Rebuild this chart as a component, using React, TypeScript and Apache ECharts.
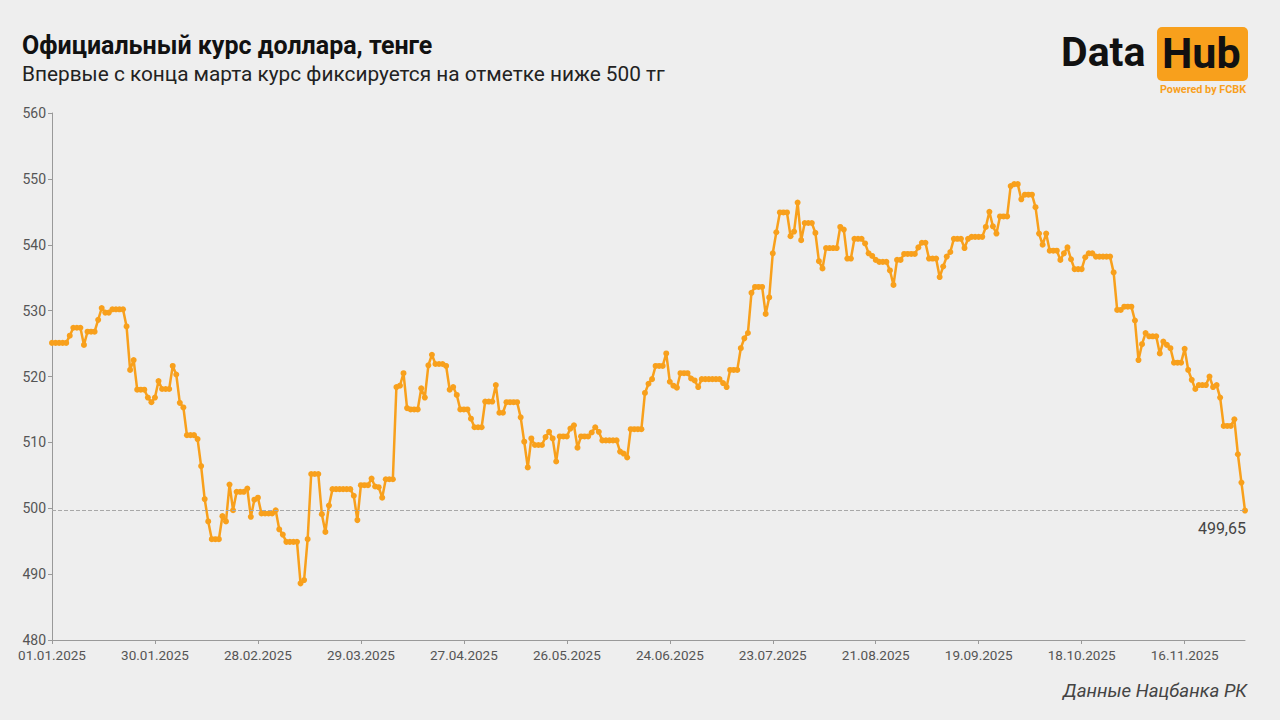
import React, { useEffect, useRef } from "react";
import * as echarts from "echarts";

const jan = [525.1, 525.1, 525.1, 525.1, 525.1, 526.2, 527.4, 527.4, 527.4, 524.8, 526.8, 526.8, 526.8, 528.6, 530.4, 529.7, 529.7, 530.2, 530.2, 530.2, 530.2, 527.6, 521.0, 522.5, 518.0, 518.0, 518.0, 516.8, 516.1, 516.8, 519.3];
const feb = [518.1, 518.1, 518.1, 521.6, 520.3, 516.0, 515.3, 511.1, 511.1, 511.1, 510.5, 506.4, 501.4, 498.0, 495.3, 495.3, 495.3, 498.8, 498.0, 503.6, 499.7, 502.5, 502.5, 502.5, 503.0, 498.7, 501.3, 501.6];
const mar = [499.2, 499.2, 499.2, 499.2, 499.7, 496.8, 496.0, 494.9, 494.9, 494.9, 494.9, 488.6, 489.1, 495.3, 505.2, 505.2, 505.2, 499.1, 496.4, 500.4, 502.9, 502.9, 502.9, 502.9, 502.9, 502.9, 501.9, 498.2, 503.5, 503.5, 503.5];
const apr = [504.5, 503.3, 503.2, 501.6, 504.4, 504.4, 504.4, 518.4, 518.6, 520.5, 515.2, 515.0, 515.0, 515.0, 518.2, 516.8, 521.7, 523.3, 521.9, 521.9, 521.9, 521.6, 518.0, 518.4, 517.2, 515.0, 515.0, 515.0, 513.6, 512.3];
const may = [512.3, 512.3, 516.2, 516.2, 516.2, 518.7, 514.5, 514.5, 516.1, 516.1, 516.1, 516.1, 513.8, 510.1, 506.2, 510.6, 509.6, 509.6, 509.6, 510.8, 511.6, 510.6, 507.1, 510.9, 510.9, 510.9, 512.1, 512.6, 509.2, 510.9, 510.9];
const jun = [510.9, 511.5, 512.3, 511.6, 510.3, 510.3, 510.3, 510.3, 510.3, 508.6, 508.3, 507.7, 512.0, 512.0, 512.0, 512.0, 517.5, 518.9, 519.6, 521.6, 521.6, 521.6, 523.5, 519.2, 518.6, 518.3, 520.5, 520.5, 520.5, 519.7];
const jul = [519.4, 518.4, 519.6, 519.6, 519.6, 519.6, 519.6, 519.6, 519.0, 518.4, 521.0, 521.0, 521.0, 524.3, 525.8, 526.6, 532.7, 533.6, 533.6, 533.6, 529.5, 532.0, 538.7, 541.9, 544.9, 544.9, 544.9, 541.3, 542.0, 546.4, 540.7];
const aug = [543.3, 543.3, 543.3, 541.8, 537.5, 536.4, 539.5, 539.5, 539.5, 539.5, 542.7, 542.3, 537.9, 537.9, 540.9, 540.9, 540.9, 540.2, 538.7, 538.3, 537.7, 537.4, 537.4, 537.4, 536.1, 533.9, 537.7, 537.7, 538.6, 538.6, 538.6];
const sep = [538.6, 539.6, 540.3, 540.3, 537.9, 537.9, 537.9, 535.1, 536.7, 538.2, 538.9, 540.9, 540.9, 540.9, 539.5, 540.9, 541.2, 541.2, 541.2, 541.2, 542.7, 545.0, 542.8, 541.7, 544.3, 544.3, 544.3, 548.9, 549.2, 549.2];
const oct = [546.9, 547.6, 547.6, 547.6, 545.7, 541.7, 540.0, 541.7, 539.1, 539.1, 539.1, 537.7, 538.7, 539.6, 537.8, 536.3, 536.3, 536.3, 538.1, 538.7, 538.7, 538.2, 538.2, 538.2, 538.2, 538.2, 535.8, 530.1, 530.1, 530.6, 530.6];
const nov = [530.6, 528.5, 522.5, 524.9, 526.6, 526.1, 526.1, 526.1, 523.5, 525.3, 524.8, 524.3, 522.1, 522.1, 522.1, 524.2, 521.0, 519.5, 518.1, 518.7, 518.7, 518.7, 520.0, 518.4, 518.7, 516.8, 512.5, 512.5, 512.5, 513.5];
const dec = [508.2, 503.9, 499.65];

const values = [...jan, ...feb, ...mar, ...apr, ...may, ...jun, ...jul, ...aug, ...sep, ...oct, ...nov, ...dec];
const lastValue = 499.65;
const lastLabel = "499,65";
const yTicks = [480, 490, 500, 510, 520, 530, 540, 550, 560];

const pad = (n: number) => (n < 10 ? "0" + n : "" + n);
const dates: string[] = values.map((_, i) => {
  const d = new Date(Date.UTC(2025, 0, 1 + i));
  return pad(d.getUTCDate()) + "." + pad(d.getUTCMonth() + 1) + "." + d.getUTCFullYear();
});

const ORANGE = "#f8a01c";
const FONT = "Roboto, 'Noto Sans', sans-serif";

export default function App() {
  const ref = useRef<HTMLDivElement>(null);
  useEffect(() => {
    document.body.style.margin = "0";
    const chart = echarts.init(ref.current!, null, { renderer: "svg" });
    chart.setOption({
      animation: false,
      backgroundColor: "#eeeeee",
      textStyle: { fontFamily: FONT },
      grid: { left: 52, right: 35, top: 113, bottom: 80, containLabel: false },
      xAxis: {
        type: "category",
        data: dates,
        boundaryGap: false,
        axisLine: { lineStyle: { color: "#999", width: 1 } },
        axisTick: { show: true, interval: 28, length: 4, lineStyle: { color: "#999" } },
        axisLabel: { interval: 28, color: "#555", fontSize: 13.5, margin: 8, fontFamily: FONT },
        splitLine: { show: false },
      },
      yAxis: {
        type: "value",
        min: yTicks[0],
        max: yTicks[yTicks.length - 1],
        interval: 10,
        axisLine: { show: true, lineStyle: { color: "#999", width: 1 } },
        axisTick: { show: true, length: 4, lineStyle: { color: "#999" } },
        axisLabel: { color: "#555", fontSize: 14, margin: 6, fontFamily: FONT },
        splitLine: { show: false },
      },
      series: [
        {
          type: "line",
          data: values,
          color: ORANGE,
          symbol: "circle",
          symbolSize: 6,
          showSymbol: true,
          showAllSymbol: true,
          lineStyle: { width: 2.5, color: ORANGE },
          itemStyle: { color: ORANGE },
          markLine: {
            silent: true,
            symbol: "none",
            label: { show: false },
            lineStyle: { type: "dashed", color: "#a8a8a8", width: 1 },
            data: [{ yAxis: lastValue }],
          },
        },
      ],
      graphic: [
        {
          type: "text",
          left: 22,
          top: 33,
          style: { text: "Официальный курс доллара, тенге", fontSize: 25, fontWeight: "bold", fill: "#111", fontFamily: FONT },
        },
        {
          type: "text",
          left: 22,
          top: 63,
          style: { text: "Впервые с конца марта курс фиксируется на отметке ниже 500 тг", fontSize: 20.8, fill: "#222", fontFamily: FONT },
        },
        {
          type: "text",
          left: 1061,
          top: 31,
          style: { text: "Data", fontSize: 41, fontWeight: "bold", fill: "#111", fontFamily: FONT },
        },
        {
          type: "rect",
          shape: { x: 1157, y: 27, width: 91, height: 54, r: 5 },
          style: { fill: ORANGE },
        },
        {
          type: "text",
          left: 1162,
          top: 31,
          style: { text: "Hub", fontSize: 43, fontWeight: "bold", fill: "#111", fontFamily: FONT },
        },
        {
          type: "text",
          right: 34,
          top: 84,
          style: { text: "Powered by FCBK", fontSize: 10.8, fontWeight: "bold", fill: ORANGE, fontFamily: FONT },
        },
        {
          type: "text",
          right: 34,
          top: 520,
          style: { text: lastLabel, fontSize: 16, fill: "#444", fontFamily: FONT },
        },
        {
          type: "text",
          right: 33,
          top: 681,
          style: { text: "Данные Нацбанка РК", fontSize: 18.7, fontStyle: "italic", fill: "#444", fontFamily: FONT },
        },
      ],
    });
    return () => chart.dispose();
  }, []);
  return <div ref={ref} style={{ width: 1280, height: 720, position: "absolute", left: 0, top: 0 }} />;
}
